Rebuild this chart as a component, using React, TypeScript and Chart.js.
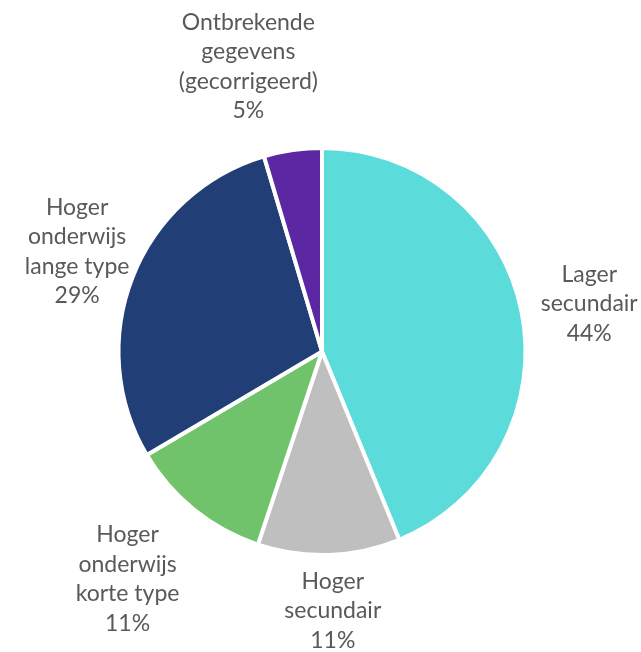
import React, { useEffect, useRef } from "react";
import { Chart, registerables } from "chart.js";

Chart.register(...registerables);

const categories = [
  ["Lager", "secundair"],
  ["Hoger", "secundair"],
  ["Hoger", "onderwijs", "korte type"],
  ["Hoger", "onderwijs", "lange type"],
  ["Ontbrekende", "gegevens", "(gecorrigeerd)"],
];
const values = [43.8, 11.3, 11.4, 28.9, 4.6];
const colors = ["#5BDBD9", "#BFBFBF", "#70C36A", "#213F76", "#5B27A3"];
// label placement: extra radial distance beyond the pie edge and angular tweak (degrees)
const labelDistance = [68, 56, 96, 61, 91];
const labelAngleShift = [1.0, -0.4, 1.6, 0.8, -6.2];

const FONT = "23px Lato, 'Liberation Sans', sans-serif";
const LINE_H = 29.5;

const labelPlugin = {
  id: "outsideLabels",
  afterDatasetsDraw(chart: any) {
    const ctx = chart.ctx;
    const meta = chart.getDatasetMeta(0);
    const data = chart.data.datasets[0].data as number[];
    const total = data.reduce((a, b) => a + b, 0);
    ctx.save();
    ctx.font = FONT;
    ctx.fillStyle = "#595959";
    ctx.textAlign = "center";
    ctx.textBaseline = "middle";
    meta.data.forEach((arc: any, i: number) => {
      const p = arc.getProps(["x", "y", "startAngle", "endAngle", "outerRadius"], true);
      const mid = (p.startAngle + p.endAngle) / 2 + (labelAngleShift[i] * Math.PI) / 180;
      const d = p.outerRadius + labelDistance[i];
      const cx = p.x + Math.cos(mid) * d;
      const cy = p.y + Math.sin(mid) * d;
      const lines = [...categories[i], Math.round((data[i] / total) * 100) + "%"];
      const top = cy - ((lines.length - 1) * LINE_H) / 2;
      lines.forEach((t, j) => ctx.fillText(t, cx, top + j * LINE_H));
    });
    ctx.restore();
  },
};

export default function App() {
  const ref = useRef<HTMLCanvasElement>(null);
  useEffect(() => {
    document.body.style.margin = "0";
    const chart = new Chart(ref.current!, {
      type: "pie",
      data: {
        labels: categories.map((c) => c.join(" ")),
        datasets: [
          {
            data: values,
            backgroundColor: colors,
            borderColor: "#FFFFFF",
            borderWidth: 4,
          },
        ],
      },
      options: {
        animation: false,
        responsive: false,
        layout: { padding: { left: 116, right: 113, top: 146, bottom: 95 } },
        plugins: {
          legend: { display: false },
          tooltip: { enabled: false },
        },
      },
      plugins: [labelPlugin],
    });
    return () => chart.destroy();
  }, []);
  return (
    <div style={{ width: 641, height: 652, background: "#fff" }}>
      <canvas ref={ref} width={641} height={652} />
    </div>
  );
}
